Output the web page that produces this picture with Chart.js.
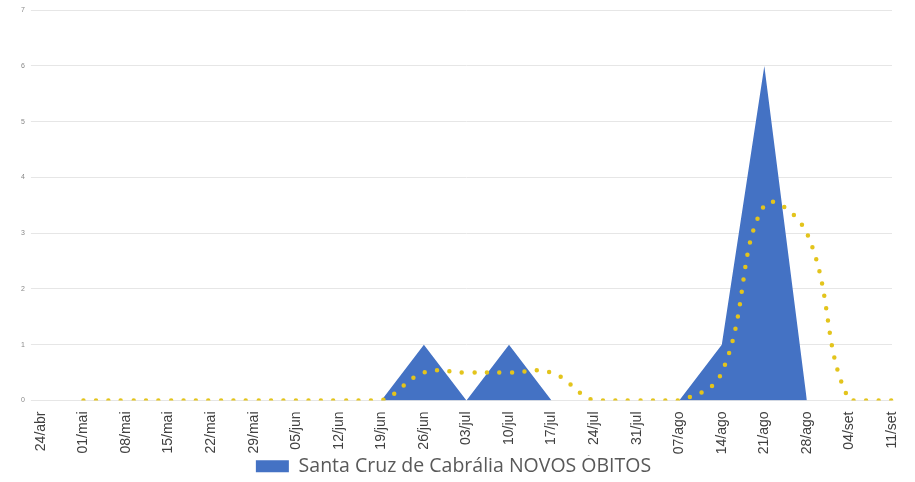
<!DOCTYPE html>
<html>
<head>
<meta charset="utf-8">
<script src="https://cdn.jsdelivr.net/npm/chart.js@4"></script>
<style>
  html, body { margin: 0; padding: 0; background: #fff; }
  #wrap { width: 915px; height: 482px; position: relative; }
</style>
</head>
<body>
<div id="wrap"><canvas id="obitosChart"></canvas></div>
<script>
// Weekly labels
const labels = ['24/abr', '01/mai', '08/mai', '15/mai', '22/mai', '29/mai', '05/jun', '12/jun',
    '19/jun', '26/jun', '03/jul', '10/jul', '17/jul', '24/jul', '31/jul', '07/ago',
    '14/ago', '21/ago', '28/ago', '04/set', '11/set'];

// New deaths per week
const novosObitos = [0, 0, 0, 0, 0, 0, 0, 0, 0, 1, 0, 1, 0, 0, 0, 0, 1, 6, 0, null, null];

// 2-week moving average (dotted line)
const mediaMovel = [null, 0, 0, 0, 0, 0, 0, 0, 0, 0.5, 0.5, 0.5, 0.5, 0, 0, 0, 0.5, 3.5, 3, 0, 0];

const yTicks = [0, 1, 2, 3, 4, 5, 6, 7];

const ctx = document.getElementById('obitosChart').getContext('2d');

new Chart(ctx, {
    type: 'line',
    data: {
        labels: labels,
        datasets: [
            {
                label: 'Média móvel',
                data: mediaMovel,
                borderColor: '#e3c41c',
                borderWidth: 4.5,
                borderDash: [0, 12.5],
                borderCapStyle: 'round',
                pointRadius: 0,
                tension: 0.4,
                fill: false,
                order: 0
            },
            {
                label: 'Santa Cruz de Cabrália NOVOS ÓBITOS',
                data: novosObitos,
                backgroundColor: '#4472c4',
                borderWidth: 0,
                borderColor: 'rgba(0,0,0,0)',
                pointRadius: 0,
                tension: 0,
                fill: 'origin',
                order: 1
            }
        ]
    },
    options: {
        responsive: true,
        maintainAspectRatio: false,
        animation: false,
        layout: {
            padding: { top: 10, right: 23, left: 15, bottom: -4 }
        },
        plugins: {
            tooltip: { enabled: false },
            legend: {
                position: 'bottom',
                labels: {
                    filter: item => item.datasetIndex === 1,
                    boxWidth: 33,
                    boxHeight: 12,
                    color: '#595959',
                    padding: 1,
                    font: { family: 'Open Sans', size: 19.5, lineHeight: 1 }
                }
            }
        },
        scales: {
            x: {
                offset: false,
                grid: { display: false },
                border: { display: false },
                afterFit: axis => { axis.height = 55; },
                ticks: {
                    autoSkip: false,
                    minRotation: 90,
                    maxRotation: 90,
                    color: '#404040',
                    padding: 3,
                    font: { family: 'Liberation Sans', size: 14 }
                }
            },
            y: {
                min: 0,
                max: 7,
                afterBuildTicks: axis => {
                    axis.ticks = yTicks.map(v => ({ value: v }));
                },
                grid: { color: '#e6e6e6', tickLength: 10 },
                border: { display: false },
                ticks: {
                    color: '#888',
                    padding: 6,
                    font: { family: 'Liberation Sans', size: 7 }
                }
            }
        }
    }
});
</script>
</body>
</html>
